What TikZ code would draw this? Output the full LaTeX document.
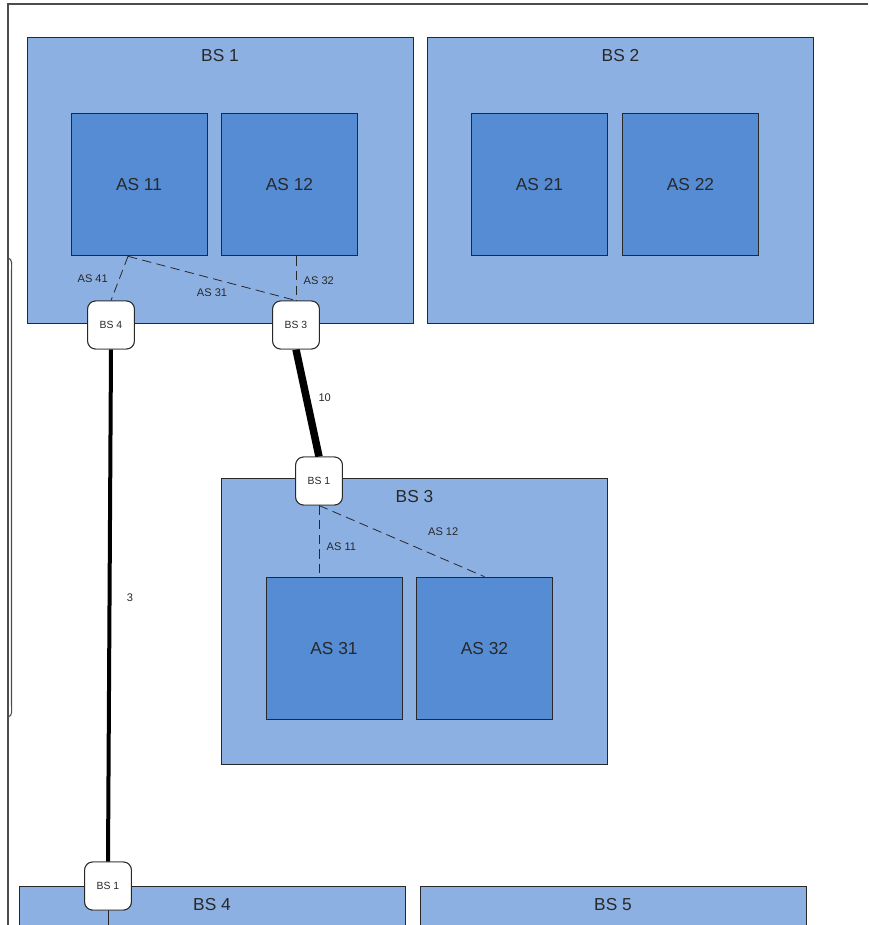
\documentclass[tikz,border=0pt]{standalone}
\usepackage{fontspec}
\setmainfont{Liberation Sans}
\usetikzlibrary{positioning,calc}

\definecolor{bslight}{RGB}{141,176,227}
\definecolor{asdark}{RGB}{85,140,212}
\definecolor{inkgray}{RGB}{40,40,40}

\tikzset{
  bsbox/.style={draw=inkgray, line width=0.7pt, fill=bslight,
    minimum width=289.5pt, minimum height=215pt, inner sep=0pt},
  asbox/.style={draw=inkgray, line width=0.7pt, fill=asdark, text=inkgray,
    minimum width=102pt, minimum height=107pt, inner sep=0pt,
    font=\fontsize{13}{15}\selectfont},
  bstitle/.style={anchor=center, yshift=-14.25pt, text=inkgray,
    font=\fontsize{13}{15}\selectfont},
  port/.style={draw=inkgray, line width=0.7pt, fill=white, rounded corners=6pt,
    minimum width=35pt, minimum height=36pt, inner sep=0pt, text=inkgray,
    font=\fontsize{7.8}{9}\selectfont},
  share/.style={draw=inkgray, line width=0.6pt, dash pattern=on 7pt off 4pt},
  trunk/.style={draw=black, line cap=butt},
  tag/.style={text=inkgray, font=\fontsize{8.3}{10}\selectfont, inner sep=1.5pt}
}

\begin{document}
\begin{tikzpicture}[x=0.75pt,y=-0.75pt]
\useasboundingbox (0,0) rectangle (868,925);
\clip (0,0) rectangle (868,925);

% window frame
\draw[gray!60!black, line width=1.4pt] (868,4) -- (8,4) -- (8,930);
\draw[gray!60!black, line width=0.8pt] (8,258) to[out=-10,in=90] (11.5,270) -- (11.5,705) to[out=-90,in=10] (8,717);

% backbone boxes
\node[bsbox, label={[bstitle]north:BS 1}] (bs1) at (220,180.5) {};
\node[bsbox, label={[bstitle]north:BS 2}] (bs2) at (620.5,180.5) {};
\node[bsbox, label={[bstitle]north:BS 3}] (bs3) at (414.5,621.5) {};
\node[bsbox, label={[bstitle]north:BS 4}] (bs4) at (212,1029.5) {};
\node[bsbox, label={[bstitle]north:BS 5}] (bs5) at (613,1029.5) {};

\node[asbox] (as11) at (139,184.5) {AS 11};
\node[asbox] (as12) at (289.5,184.5) {AS 12};
\node[asbox] (as21) at (539.5,184.5) {AS 21};
\node[asbox] (as22) at (690.5,184.5) {AS 22};
\node[asbox] (as31) at (334,648.5) {AS 31};
\node[asbox] (as32) at (484.5,648.5) {AS 32};

% border ports
\node[port] (p14) at (111,325) {BS 4};
\node[port] (p13) at (296,325) {BS 3};
\node[port] (p31) at (319,481) {BS 1};
\node[port] (p41) at (108,886) {BS 1};
\coordinate (p41cut) at (108,935);

% intra-domain sharing
\draw[share] ([xshift=-8.25pt]as11.south) -- node[tag, left=7pt] {AS 41} (p14.north);
\draw[share] ([xshift=-8.25pt]as11.south) -- node[tag, below=6pt] {AS 31} (p13.north);
\draw[share] (p13.north |- as12.south) -- node[tag, right=4pt, yshift=-2pt] {AS 32} (p13.north);
\draw[share] (p31.south) -- node[tag, right=4pt, yshift=-4pt] {AS 11} (p31.south |- as31.north);
\draw[share] (p31.south) -- node[tag, above right=2pt and 18pt] {AS 12} (as32.north);

% inter-domain links
\draw[trunk, line width=5.6pt] (p13.south) -- node[tag, right=4pt, yshift=4pt] {10} (p31.north);
\draw[trunk, line width=3pt] (p14.south) -- node[tag, right=10pt, yshift=6pt] {3} (p41.north);
\draw[inkgray, line width=0.6pt] (p41.south) -- (p41cut);

\node[port] at (p14) {BS 4};
\node[port] at (p13) {BS 3};
\node[port] at (p31) {BS 1};
\node[port] at (p41) {BS 1};
\end{tikzpicture}
\end{document}
